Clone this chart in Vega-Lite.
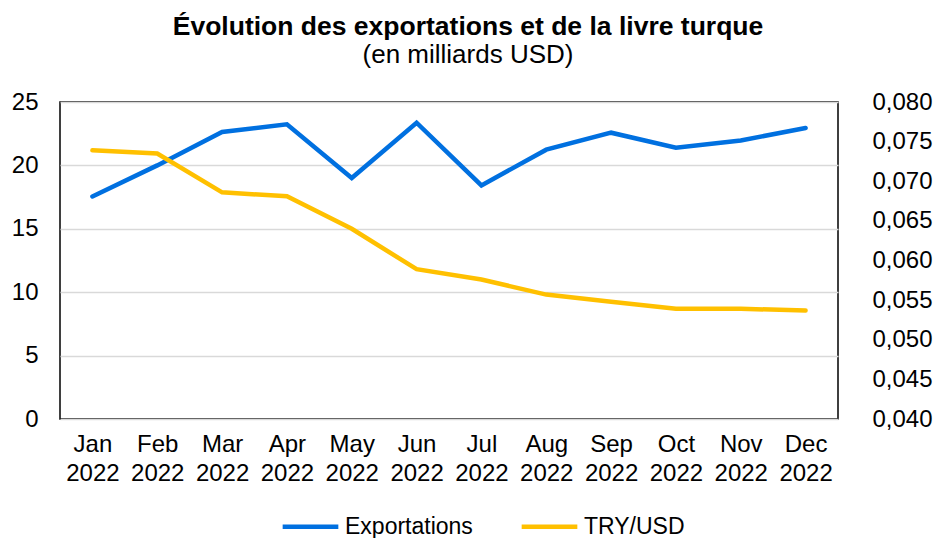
{
  "$schema": "https://vega.github.io/schema/vega-lite/v6.json",
  "autosize": {"type": "none"},
  "width": 778,
  "height": 317,
  "padding": {"left": 60, "top": 102, "right": 98, "bottom": 119},
  "background": "white",
  "config": {
    "font": "Liberation Sans",
    "view": {"stroke": "black", "strokeWidth": 1.5},
    "axis": {"labelFont": "Liberation Sans", "labelFontSize": 24, "labelColor": "black", "ticks": false, "domain": false, "title": null}
  },
  "title": {
    "text": "Évolution des exportations et de la livre turque",
    "subtitle": "(en milliards USD)",
    "anchor": "middle",
    "dx": 19,
    "offset": 22,
    "font": "Liberation Sans",
    "fontSize": 26.5,
    "fontWeight": "bold",
    "color": "black",
    "subtitleFont": "Liberation Sans",
    "subtitleFontSize": 26,
    "subtitleColor": "black",
    "subtitlePadding": 2
  },
  "data": {
    "values": [
      {"mois": "Jan 2022", "serie": "Exportations", "valeur": 17.55},
      {"mois": "Feb 2022", "serie": "Exportations", "valeur": 20.0},
      {"mois": "Mar 2022", "serie": "Exportations", "valeur": 22.63},
      {"mois": "Apr 2022", "serie": "Exportations", "valeur": 23.24},
      {"mois": "May 2022", "serie": "Exportations", "valeur": 19.0},
      {"mois": "Jun 2022", "serie": "Exportations", "valeur": 23.37},
      {"mois": "Jul 2022", "serie": "Exportations", "valeur": 18.42},
      {"mois": "Aug 2022", "serie": "Exportations", "valeur": 21.24},
      {"mois": "Sep 2022", "serie": "Exportations", "valeur": 22.58},
      {"mois": "Oct 2022", "serie": "Exportations", "valeur": 21.4},
      {"mois": "Nov 2022", "serie": "Exportations", "valeur": 21.97},
      {"mois": "Dec 2022", "serie": "Exportations", "valeur": 22.95},
      {"mois": "Jan 2022", "serie": "TRY/USD", "valeur": 0.0739},
      {"mois": "Feb 2022", "serie": "TRY/USD", "valeur": 0.0735},
      {"mois": "Mar 2022", "serie": "TRY/USD", "valeur": 0.0686},
      {"mois": "Apr 2022", "serie": "TRY/USD", "valeur": 0.0681},
      {"mois": "May 2022", "serie": "TRY/USD", "valeur": 0.0640},
      {"mois": "Jun 2022", "serie": "TRY/USD", "valeur": 0.0589},
      {"mois": "Jul 2022", "serie": "TRY/USD", "valeur": 0.0576},
      {"mois": "Aug 2022", "serie": "TRY/USD", "valeur": 0.0557},
      {"mois": "Sep 2022", "serie": "TRY/USD", "valeur": 0.0548},
      {"mois": "Oct 2022", "serie": "TRY/USD", "valeur": 0.0539},
      {"mois": "Nov 2022", "serie": "TRY/USD", "valeur": 0.0539},
      {"mois": "Dec 2022", "serie": "TRY/USD", "valeur": 0.0537}
    ]
  },
  "encoding": {
    "x": {
      "field": "mois",
      "type": "ordinal",
      "sort": null,
      "scale": {"type": "point", "padding": 0.5},
      "axis": {"labelAngle": 0, "labelPadding": 13, "labelLineHeight": 29, "labelExpr": "split(datum.label, ' ')", "grid": false}
    },
    "color": {
      "field": "serie",
      "type": "nominal",
      "scale": {"domain": ["Exportations", "TRY/USD"], "range": ["#0070E0", "#FFC000"]},
      "legend": {
        "orient": "none",
        "legendX": 220,
        "legendY": 394,
        "padding": 0,
        "direction": "horizontal",
        "title": null,
        "symbolType": "stroke",
        "symbolStrokeWidth": 4.5,
        "symbolSize": 3100,
        "labelFont": "Liberation Sans",
        "labelFontSize": 23,
        "labelColor": "black",
        "labelOffset": 4,
        "columnPadding": 39
      }
    }
  },
  "layer": [
    {
      "transform": [{"filter": "datum.serie == 'Exportations'"}],
      "mark": {"type": "line", "strokeWidth": 4.5, "strokeCap": "round", "strokeJoin": "miter"},
      "encoding": {
        "y": {
          "field": "valeur",
          "type": "quantitative",
          "scale": {"domain": [0, 25], "nice": false},
          "axis": {"orient": "left", "values": [0, 5, 10, 15, 20, 25], "labelPadding": 22, "grid": true, "gridColor": "#D9D9D9", "gridWidth": 1.5}
        }
      }
    },
    {
      "transform": [{"filter": "datum.serie == 'TRY/USD'"}],
      "mark": {"type": "line", "strokeWidth": 4.5, "strokeCap": "round", "strokeJoin": "miter"},
      "encoding": {
        "y": {
          "field": "valeur",
          "type": "quantitative",
          "scale": {"domain": [0.04, 0.08], "nice": false, "zero": false},
          "axis": {"orient": "right", "values": [0.04, 0.045, 0.05, 0.055, 0.06, 0.065, 0.07, 0.075, 0.08], "labelPadding": 34, "grid": false, "labelExpr": "replace(format(datum.value, '.3f'), '.', ',')"}
        }
      }
    }
  ],
  "resolve": {"scale": {"y": "independent"}}
}
